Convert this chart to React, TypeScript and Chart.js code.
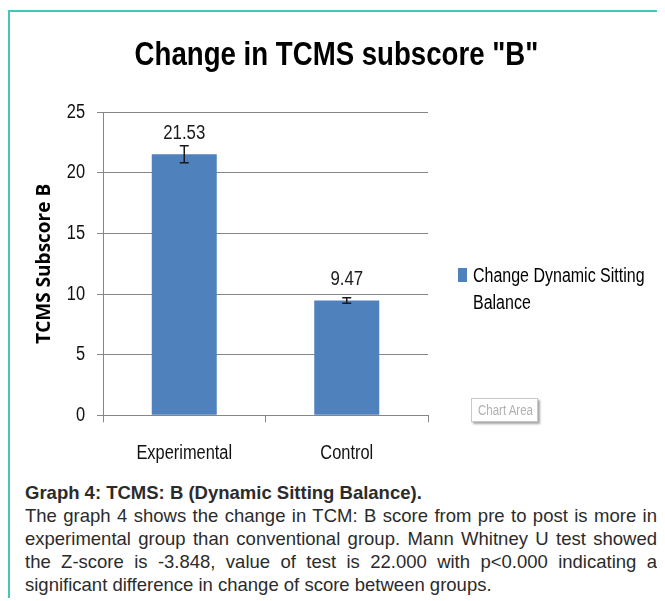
import React, { useEffect, useRef } from "react";
import { Chart, registerables } from "chart.js";

Chart.register(...registerables);

const categories = ["Experimental", "Control"];
const values = [21.53, 9.47];
const errors = [0.7, 0.22];
const legendLines = ["Change Dynamic Sitting", "Balance"];
const chartTitle = 'Change in TCMS subscore "B"';
const yAxisTitle = "TCMS Subscore B";
const yMin = 0;
const yMax = 25;
const yStep = 5;

const captionTitle = "Graph 4: TCMS: B (Dynamic Sitting Balance).";
const captionLines = [
  "The graph 4 shows the change in TCM: B score from pre to post is more in",
  "experimental group than conventional group. Mann Whitney U test showed",
  "the Z-score is -3.848, value of test is 22.000 with p<0.000 indicating a",
  "significant difference in change of score between groups.",
];

const SANS = "'Liberation Sans', Arial, sans-serif";
const BAR = "#4F81BD";
const GRID = "#868686";

function narrowText(
  ctx: CanvasRenderingContext2D,
  text: string,
  x: number,
  y: number,
  font: string,
  sx: number,
  align: CanvasTextAlign,
  baseline: CanvasTextBaseline,
  color: string
) {
  ctx.save();
  ctx.translate(x, y);
  ctx.scale(sx, 1);
  ctx.font = font;
  ctx.textAlign = align;
  ctx.textBaseline = baseline;
  ctx.fillStyle = color;
  ctx.fillText(text, 0, 0);
  ctx.restore();
}

const overlay = {
  id: "overlay",
  afterDraw(chart: any) {
    const ctx = chart.ctx as CanvasRenderingContext2D;
    const meta = chart.getDatasetMeta(0);
    const ys = chart.scales.y;
    const xs = chart.scales.x;
    ys.ticks.forEach((t: any, i: number) => {
      narrowText(ctx, String(t.value), ys.right - 6 - 12, ys.getPixelForTick(i), `20px ${SANS}`, 0.82, "right", "middle", "#111");
    });
    categories.forEach((c, i) => {
      narrowText(ctx, c, xs.getPixelForTick(i), xs.top + 38, `20px ${SANS}`, 0.82, "center", "middle", "#111");
    });
    meta.data.forEach((bar: any, i: number) => {
      const x = bar.x;
      const top = ys.getPixelForValue(values[i] + errors[i]);
      const bot = ys.getPixelForValue(values[i] - errors[i]);
      ctx.save();
      ctx.strokeStyle = "#1a1a1a";
      ctx.lineWidth = 1.5;
      ctx.beginPath();
      ctx.moveTo(x, top);
      ctx.lineTo(x, bot);
      ctx.moveTo(x - 4.5, top);
      ctx.lineTo(x + 4.5, top);
      ctx.moveTo(x - 4.5, bot);
      ctx.lineTo(x + 4.5, bot);
      ctx.stroke();
      ctx.restore();
      narrowText(ctx, values[i].toFixed(2), x, bar.y - 15.5, `20.5px ${SANS}`, 0.82, "center", "alphabetic", "#1a1a1a");
    });
    narrowText(ctx, chartTitle, chart.width / 2, 57, `bold 32.5px ${SANS}`, 0.85, "center", "alphabetic", "#000");
    ctx.save();
    ctx.fillStyle = BAR;
    ctx.fillRect(450, 260, 9, 14);
    ctx.restore();
    legendLines.forEach((t, i) =>
      narrowText(ctx, t, 465, 273.7 + i * 27.6, `19.5px ${SANS}`, 0.82, "left", "alphabetic", "#000")
    );
  },
};

export default function App() {
  const ref = useRef<HTMLCanvasElement | null>(null);
  useEffect(() => {
    if (!ref.current) return;
    const chart = new Chart(ref.current, {
      type: "bar",
      data: {
        labels: categories,
        datasets: [
          {
            label: legendLines.join(" "),
            data: values,
            backgroundColor: BAR,
            borderWidth: 0,
            barPercentage: 0.4,
            categoryPercentage: 1,
          },
        ],
      },
      options: {
        responsive: false,
        animation: false,
        layout: { padding: { left: 0, top: 104.3, right: 237, bottom: 7.7 } },
        plugins: { legend: { display: false }, tooltip: { enabled: false }, title: { display: false } },
        scales: {
          x: {
            afterFit: (s: any) => {
              s.height = 55;
            },
            grid: { display: true, drawOnChartArea: false, drawTicks: true, tickLength: 7, color: GRID },
            border: { color: GRID },
            ticks: { display: false },
          },
          y: {
            min: yMin,
            max: yMax,
            afterFit: (s: any) => {
              s.width = 95;
            },
            grid: { color: GRID, tickLength: 6, lineWidth: 1 },
            border: { color: GRID },
            ticks: { stepSize: yStep, display: false },
            title: {
              display: true,
              text: yAxisTitle,
              font: { family: "'Open Sans', sans-serif", size: 19, weight: "bold" },
              color: "#000",
              padding: { top: 25, bottom: 0 },
            },
          },
        },
      },
      plugins: [overlay],
    });
    return () => chart.destroy();
  }, []);

  return (
    <div style={{ position: "relative", width: 657, height: 590 }}>
      <div
        style={{
          position: "absolute",
          left: 0,
          top: 2,
          width: 660,
          height: 600,
          borderTop: "2px solid #45c6b8",
          borderLeft: "2px solid #45c6b8",
        }}
      />
      <canvas ref={ref} width={657} height={470} style={{ position: "absolute", left: 0, top: 0 }} />
      <div
        style={{
          position: "absolute",
          left: 463,
          top: 390,
          width: 67,
          height: 24,
          border: "1px solid #c8c8c8",
          boxShadow: "2px 2px 2px rgba(0,0,0,0.35)",
          background: "#fff",
          boxSizing: "border-box",
          overflow: "hidden",
          whiteSpace: "nowrap",
          textAlign: "center",
          lineHeight: "22px",
        }}
      >
        <span
          style={{
            display: "inline-block",
            transform: "scaleX(0.82)",
            color: "#b0b0b0",
            font: `14px ${SANS}`,
          }}
        >
          Chart Area
        </span>
      </div>
      <div
        style={{
          position: "absolute",
          left: 17,
          top: 473,
          width: 632,
          fontFamily: SANS,
          fontSize: 18.5,
          lineHeight: "23px",
          color: "#2b2b2b",
        }}
      >
        <div style={{ fontWeight: "bold" }}>{captionTitle}</div>
        {captionLines.map((l, i) => (
          <div
            key={i}
            style={{
              textAlign: i < captionLines.length - 1 ? "justify" : "left",
              textAlignLast: i < captionLines.length - 1 ? "justify" : "left",
              whiteSpace: "nowrap",
            }}
          >
            {l}
          </div>
        ))}
      </div>
    </div>
  );
}
